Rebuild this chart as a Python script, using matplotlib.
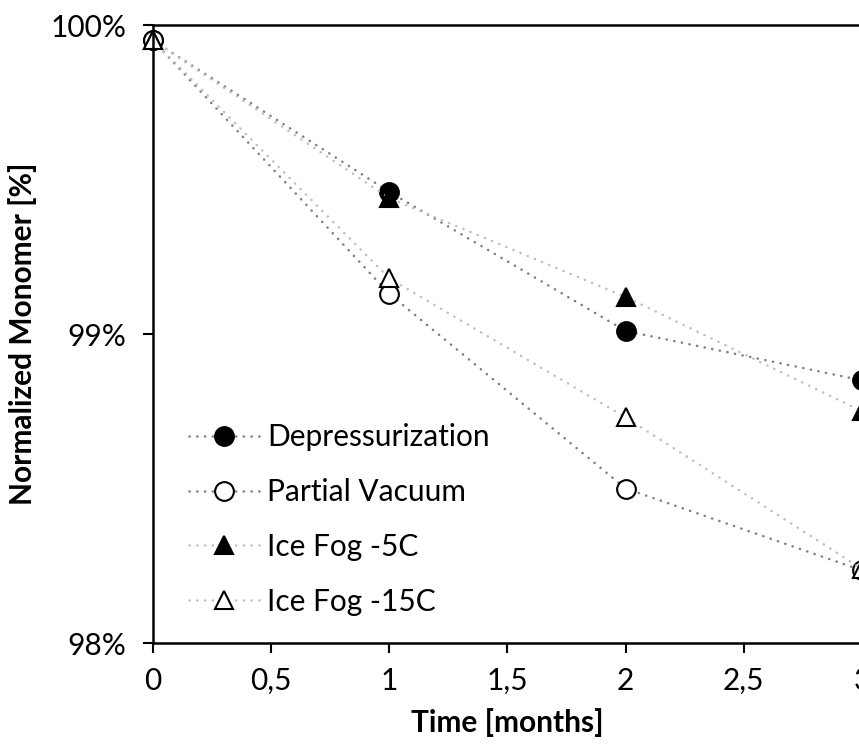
import matplotlib
matplotlib.use("Agg")
import matplotlib.pyplot as plt
from matplotlib.ticker import FuncFormatter

plt.rcParams['font.family'] = ['Lato', 'DejaVu Sans']

# months
months = [0, 1, 2, 3]

# normalized monomer [%]
depressurization = [99.95, 99.46, 99.01, 98.85]
partial_vacuum = [99.95, 99.13, 98.50, 98.235]
ice_fog_5 = [99.95, 99.44, 99.12, 98.75]
ice_fog_15 = [99.95, 99.18, 98.73, 98.24]

dark = '#7f7f7f'
light = '#bfbfbf'
dots = (0, (0.1, 3.0))
fs = 21.5

fig = plt.figure(figsize=(8.59, 7.49), dpi=100)
ax = fig.add_axes([0.1781, 0.1415, 0.8254, 0.8251])

ms = 13.5
ax.plot(months, depressurization, color=dark, ls=dots, lw=1.8, dash_capstyle='round',
        marker='o', ms=ms, mfc='black', mec='black', mew=1.5, label='Depressurization', clip_on=False)
ax.plot(months, partial_vacuum, color=dark, ls=dots, lw=1.8, dash_capstyle='round',
        marker='o', ms=ms, mfc='white', mec='black', mew=1.5, label='Partial Vacuum', clip_on=False)
ax.plot(months, ice_fog_5, color=light, ls=dots, lw=1.8, dash_capstyle='round',
        marker='^', ms=ms, mfc='black', mec='black', mew=1.5, label='Ice Fog -5C', clip_on=False)
ax.plot(months, ice_fog_15, color=light, ls=dots, lw=1.8, dash_capstyle='round',
        marker='^', ms=ms, mfc='white', mec='black', mew=1.5, label='Ice Fog -15C', clip_on=False)

ax.set_xlim(0, 3)
ax.set_ylim(98, 100)
ax.set_xticks([0, 0.5, 1, 1.5, 2, 2.5, 3])
ax.set_yticks([98, 99, 100])
ax.xaxis.set_major_formatter(FuncFormatter(lambda v, p: ('%g' % v).replace('.', ',')))
ax.yaxis.set_major_formatter(FuncFormatter(lambda v, p: '%d%%' % v))
ax.tick_params(direction='out', length=7, width=1.5, labelsize=fs)
ax.tick_params(axis='x', pad=10)
ax.tick_params(axis='y', pad=12)

for s in ['left', 'bottom', 'top']:
    ax.spines[s].set_linewidth(1.8)
ax.spines['right'].set_visible(False)

ax.set_xlabel('Time [months]', fontsize=fs, fontweight='bold', labelpad=10)
ax.set_ylabel('Normalized Monomer [%]', fontsize=fs, fontweight='bold', labelpad=10)

ax.legend(loc='lower left', bbox_to_anchor=(0.03, 0.02), frameon=False, fontsize=fs,
          handlelength=2.35, handletextpad=0.25, labelspacing=0.9, borderpad=0)

fig.savefig('out.png', dpi=100)
